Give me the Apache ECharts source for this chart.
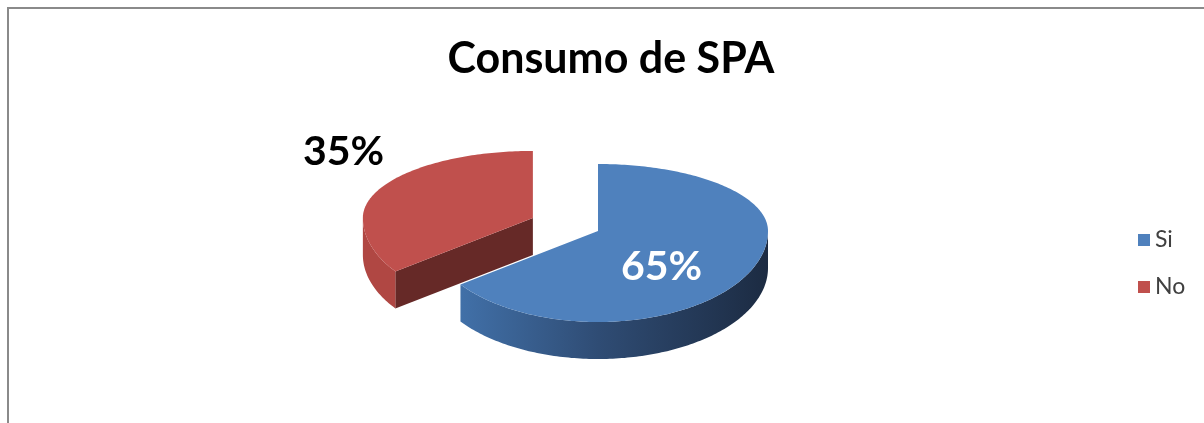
<!DOCTYPE html>
<html>
<head>
<meta charset="utf-8">
<script src="https://cdn.jsdelivr.net/npm/echarts@6/dist/echarts.min.js"></script>
<style>
  html, body { margin: 0; padding: 0; background: #fff; }
  #chart { width: 1204px; height: 423px; }
</style>
</head>
<body>
<div id="chart"></div>
<script>
// data
var categories = ['Si', 'No'];
var values = [65, 35];
var labels = ['65%', '35%'];

var topColors = ['#4f81bd', '#c0504d'];

// pie geometry (3D look: top half flatter than bottom half)
var cx = 598, cy = 231, rx = 170, ryTop = 67, ryBot = 91, depth = 37;
var explodedName = 'No';
var explodeBy = 0.43;

var total = values.reduce(function (a, b) { return a + b; }, 0);

function pt(t, ox, oy, dy) {
    var c = Math.cos(t);
    var ry = c > 0 ? ryTop : ryBot;
    return [cx + ox + rx * Math.sin(t), cy + oy - ry * c + (dy || 0)];
}

function arc(t0, t1, ox, oy, dy) {
    var pts = [];
    var n = Math.max(2, Math.ceil((t1 - t0) / (Math.PI / 180)));
    for (var i = 0; i <= n; i++) {
        pts.push(pt(t0 + (t1 - t0) * i / n, ox, oy, dy));
    }
    return pts;
}

function makeRender(idx) {
    return function (params, api) {
        var before = 0;
        for (var k = 0; k < idx; k++) before += values[k];
        var a0 = before / total * Math.PI * 2;
        var a1 = a0 + api.value(0) / total * Math.PI * 2;
        var mid = (a0 + a1) / 2;

        var ox = 0, oy = 0;
        if (categories[idx] === explodedName) {
            var o = pt(mid, 0, 0);
            ox = (o[0] - cx) * explodeBy;
            oy = (o[1] - cy) * explodeBy;
        }
        var C = [cx + ox, cy + oy];
        var children = [];
        var dark = idx === 0 ? '#2a4468' : '#662927';

        // radial cut faces
        [[a0, a0 - Math.PI / 2], [a1, a1 + Math.PI / 2]].forEach(function (f) {
            if (Math.cos(f[1]) < -0.01) {
                var p = pt(f[0], ox, oy);
                children.push({
                    type: 'polygon',
                    shape: { points: [C, p, [p[0], p[1] + depth], [C[0], C[1] + depth]] },
                    style: { fill: dark }
                });
            }
        });

        // outer wall (front half only)
        var w0 = Math.max(a0, Math.PI / 2), w1 = Math.min(a1, Math.PI * 1.5);
        if (w1 > w0) {
            var topArc = arc(w0, w1, ox, oy, 0);
            var botArc = arc(w0, w1, ox, oy, depth).reverse();
            var fill = idx === 0 ? {
                type: 'linear', x: 1, y: 0, x2: 0, y2: 0,
                colorStops: [
                    { offset: 0, color: '#1c2b42' },
                    { offset: 0.55, color: '#2f4c74' },
                    { offset: 1, color: '#4170a8' }
                ]
            } : '#b04743';
            children.push({
                type: 'polygon',
                shape: { points: topArc.concat(botArc) },
                style: { fill: fill }
            });
        }

        // top face
        children.push({
            type: 'polygon',
            shape: { points: [C].concat(arc(a0, a1, ox, oy, 0)) },
            style: { fill: topColors[idx] }
        });

        // label
        var lp, lc;
        if (categories[idx] === explodedName) {
            var q = pt(mid, ox, oy);
            lp = [C[0] + (q[0] - C[0]) * 1.25, C[1] + (q[1] - C[1]) * 1.25 - 28];
            lc = '#000';
        } else {
            var r = pt(mid, 0, 0);
            lp = [cx + (r[0] - cx) * 0.42, cy + (r[1] - cy) * 0.42 + depth / 2];
            lc = '#fff';
        }
        children.push({
            type: 'text',
            style: {
                text: labels[idx], x: lp[0], y: lp[1],
                fill: lc, fontSize: 41, fontWeight: 'bold', fontFamily: 'Lato',
                align: 'center', verticalAlign: 'middle'
            }
        });

        return { type: 'group', children: children };
    };
}

var chart = echarts.init(document.getElementById('chart'), null, { renderer: 'canvas' });

chart.setOption({
    animation: false,
    backgroundColor: '#fff',
    title: {
        text: 'Consumo de SPA',
        left: 606,
        textAlign: 'center',
        top: 33,
        textStyle: { fontSize: 43, fontWeight: 'bold', fontFamily: 'Lato', color: '#000' }
    },
    legend: {
        orient: 'vertical',
        left: 1133,
        top: 222,
        icon: 'rect',
        itemWidth: 12,
        itemHeight: 12,
        itemGap: 21,
        textStyle: { fontSize: 23, fontFamily: 'Lato', color: '#404040', lineHeight: 26 },
        data: categories
    },
    graphic: [{
        type: 'rect',
        shape: { x: 8, y: 8, width: 1400, height: 600 },
        style: { fill: 'none', stroke: '#8a8a8a', lineWidth: 2 },
        silent: true
    }],
    series: categories.map(function (name, i) {
        return {
            name: name,
            type: 'custom',
            coordinateSystem: 'none',
            itemStyle: { color: topColors[i] },
            renderItem: makeRender(i),
            data: [values[i]]
        };
    })
});
</script>
</body>
</html>
